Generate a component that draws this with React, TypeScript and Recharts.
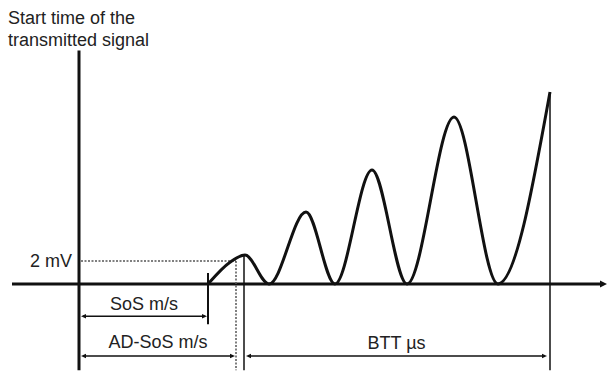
import React from 'react';
import { LineChart, Line, XAxis, YAxis, ReferenceLine } from 'recharts';

// time axis in µs-like units (origin = start of transmitted signal), amplitude in mV
const waveTime = [12.9, 15.1, 16.6, 19.0, 22.7, 25.6, 29.3, 32.8, 37.5, 41.9, 47.1];
const waveAmp = [0, 1.9, 2.52, 0, 6.26, 0, 9.91, 0, 14.52, 0, 16.7];

const thresholdMv = 2;
const sosStart = 12.9;
const adSosStart = 15.7;
const bttStart = 16.5;
const bttEnd = 47.1;

const axisStart = -6.7;
const axisEnd = 52.8;
const axisTop = 20.3;
const axisBottom = -7.5;
const sosArrowY = -2.8;
const dimArrowY = -6.26;

const waveData = waveTime.map((t, i) => ({ t, amp: waveAmp[i] }));

const font = '"Liberation Sans", Arial, sans-serif';
const ink = '#111';

const DimLine = (props: any) => {
  const { x1, y1, x2, y2 } = props;
  return (
    <g>
      <line x1={x1 + 2} y1={y1} x2={x2 - 2} y2={y2} stroke={ink} strokeWidth={1.5} />
      <polygon points={`${x1},${y1} ${x1 + 5},${y1 - 2.2} ${x1 + 5},${y1 + 2.2}`} fill={ink} />
      <polygon points={`${x2},${y2} ${x2 - 5},${y2 - 2.2} ${x2 - 5},${y2 + 2.2}`} fill={ink} />
    </g>
  );
};

const AxisArrow = (props: any) => {
  const { x1, y1, x2, y2 } = props;
  return (
    <g>
      <line x1={x1} y1={y1} x2={x2 - 4} y2={y2} stroke={ink} strokeWidth={3} />
      <polygon points={`${x2},${y2} ${x2 - 7},${y2 - 3.5} ${x2 - 7},${y2 + 3.5}`} fill={ink} />
    </g>
  );
};

const labelStyle = { fontFamily: font, fontSize: 18, fill: '#222' };

export default function App() {
  return (
    <div style={{ position: 'absolute', left: 0, top: 0, width: 608, height: 371, background: '#fff' }}>
      <div
        style={{
          position: 'absolute',
          left: 8,
          top: 7,
          fontFamily: font,
          fontSize: 18,
          lineHeight: '22px',
          color: '#222',
        }}
      >
        Start time of the
        <br />
        transmitted signal
      </div>
      <LineChart width={608} height={371} data={waveData} margin={{ top: 0, right: 0, bottom: 0, left: 0 }}>
        <XAxis type="number" dataKey="t" domain={[-7.9, 52.9]} allowDataOverflow hide />
        <YAxis type="number" domain={[-7.565, 24.696]} allowDataOverflow hide />

        {/* axes */}
        <ReferenceLine
          segment={[{ x: axisStart, y: 0 }, { x: axisEnd, y: 0 }]}
          ifOverflow="visible"
          shape={AxisArrow}
        />
        <ReferenceLine
          segment={[{ x: 0, y: axisTop }, { x: 0, y: axisBottom }]}
          ifOverflow="visible"
          stroke={ink}
          strokeWidth={3}
        />

        {/* threshold */}
        <ReferenceLine
          segment={[{ x: 0.2, y: thresholdMv }, { x: adSosStart, y: thresholdMv }]}
          ifOverflow="visible"
          stroke="#555"
          strokeWidth={1.5}
          strokeDasharray="2 1.5"
          label={{ value: `${thresholdMv} mV`, position: 'left', offset: 9, style: labelStyle }}
        />
        <ReferenceLine
          segment={[{ x: adSosStart, y: thresholdMv }, { x: adSosStart, y: axisBottom }]}
          ifOverflow="visible"
          stroke="#555"
          strokeWidth={1.5}
          strokeDasharray="2 1.5"
        />

        {/* markers */}
        <ReferenceLine
          segment={[{ x: sosStart, y: 0.96 }, { x: sosStart, y: -3.5 }]}
          ifOverflow="visible"
          stroke={ink}
          strokeWidth={2}
        />
        <ReferenceLine
          segment={[{ x: bttStart, y: 2.45 }, { x: bttStart, y: axisBottom }]}
          ifOverflow="visible"
          stroke={ink}
          strokeWidth={1.5}
        />
        <ReferenceLine
          segment={[{ x: bttEnd, y: waveAmp[waveAmp.length - 1] }, { x: bttEnd, y: axisBottom }]}
          ifOverflow="visible"
          stroke={ink}
          strokeWidth={1.5}
        />

        {/* dimension arrows */}
        <ReferenceLine
          segment={[{ x: 0.2, y: sosArrowY }, { x: sosStart - 0.1, y: sosArrowY }]}
          ifOverflow="visible"
          shape={DimLine}
          label={{ value: 'SoS m/s', position: 'top', offset: 6, style: labelStyle }}
        />
        <ReferenceLine
          segment={[{ x: 0.2, y: dimArrowY }, { x: adSosStart - 0.1, y: dimArrowY }]}
          ifOverflow="visible"
          shape={DimLine}
          label={{ value: 'AD-SoS m/s', position: 'top', offset: 8, style: labelStyle }}
        />
        <ReferenceLine
          segment={[{ x: bttStart + 0.2, y: dimArrowY }, { x: bttEnd - 0.3, y: dimArrowY }]}
          ifOverflow="visible"
          shape={DimLine}
          label={{ value: 'BTT µs', position: 'top', offset: 7, style: labelStyle }}
        />

        <Line
          type="monotone"
          dataKey="amp"
          stroke={ink}
          strokeWidth={3}
          dot={false}
          activeDot={false}
          legendType="none"
          isAnimationActive={false}
        />
      </LineChart>
    </div>
  );
}
